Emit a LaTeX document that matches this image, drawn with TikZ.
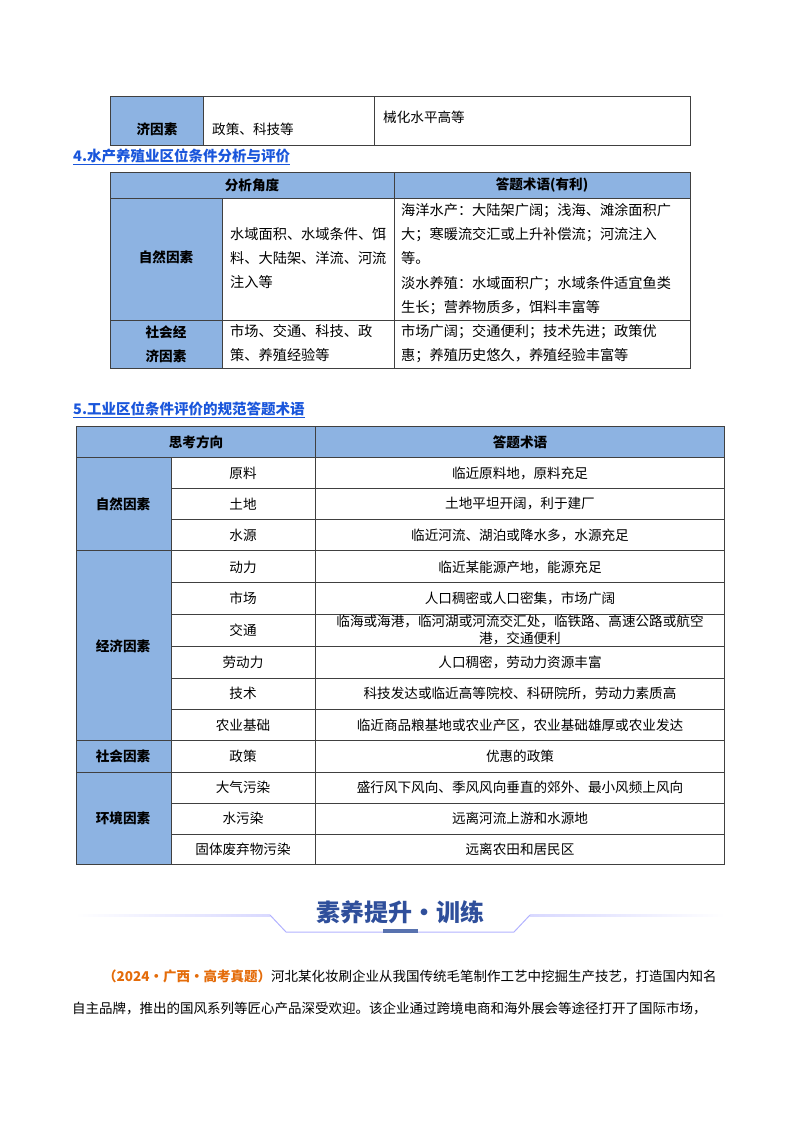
\documentclass[tikz,border=0pt]{standalone}
\usepackage{fontspec}
\setmainfont{Noto Sans CJK SC}
\usetikzlibrary{calc}
\definecolor{hb}{HTML}{8DB3E2}
\definecolor{tb}{HTML}{2F4F9B}
\definecolor{or}{HTML}{E46C0A}
\definecolor{ln}{HTML}{1A56DB}
\begin{document}
\begin{tikzpicture}[x=1pt,y=-1pt,
  t/.style={font=\fontsize{13.6}{16}\selectfont,inner sep=0pt},
  b/.style={font=\bfseries\fontsize{13.6}{16}\selectfont,inner sep=0pt},
  lt/.style={font=\fontsize{14.2}{24.3}\selectfont,inner sep=0pt,anchor=north west,align=left},
  hd/.style={font=\bfseries\fontsize{14.5}{16}\selectfont,text=ln,inner sep=0pt,anchor=west},
  grid/.style={draw=black!75,line width=0.8pt}]
\useasboundingbox (0,0) rectangle (800,1132);
% top table
\fill[hb] (110,96) rectangle (203,145);
\draw[grid] (110,96) rectangle (690,145) (203,96)--(203,145) (374,96)--(374,145);
\node[b] (a1) at (157,129) {济因素};
\node[t,anchor=west] (a2) at (212,129) {政策、科技等};
\node[t,anchor=west] (a3) at (383,117) {械化水平高等};
% heading 4
\node[hd] (h4) at (73,156) {4.水产养殖业区位条件分析与评价};
\draw[ln,line width=0.7pt] ($(h4.south west)+(0,1)$) -- ($(h4.south east)+(0,1)$);
% table 4
\fill[hb] (110,172) rectangle (690,198);
\fill[hb] (110,198) rectangle (222,368);
\draw[grid] (110,172) rectangle (690,368) (110,198)--(690,198) (110,320)--(690,320)
 (394,172)--(394,368) (222,198)--(222,368);
\node[b] (b1) at (252,185) {分析角度};
\node[b] (b2) at (542,185) {答题术语(有利)};
\node[b] (b3) at (166,257) {自然因素};
\node[b,align=center,font=\bfseries\fontsize{13.6}{24}\selectfont] (b4) at (166,344) {社会经\\济因素};
\node[lt] (b5) at (230,227) {水域面积、水域条件、饵\\料、大陆架、洋流、河流\\注入等};
\node[lt] (b6) at (401,203) {海洋水产：大陆架广阔；浅海、滩涂面积广\\大；寒暖流交汇或上升补偿流；河流注入\\等。\\淡水养殖：水域面积广；水域条件适宜鱼类\\生长；营养物质多，饵料丰富等};
\node[lt] (b7) at (230,324) {市场、交通、科技、政\\策、养殖经验等};
\node[lt] (b8) at (401,324) {市场广阔；交通便利；技术先进；政策优\\惠；养殖历史悠久，养殖经验丰富等};
% heading 5
\node[hd] (h5) at (73,409) {5.工业区位条件评价的规范答题术语};
\draw[ln,line width=0.7pt] ($(h5.south west)+(0,1)$) -- ($(h5.south east)+(0,1)$);
% table 5
\fill[hb] (76,426) rectangle (724,457);
\fill[hb] (76,457) rectangle (171,864);
\draw[grid] (76,426) rectangle (724,864) (315,426)--(315,864) (171,457)--(171,864)
 (76,457)--(724,457) (76,550)--(724,550) (76,740)--(724,740) (76,772)--(724,772);
\foreach \y in {488,519,582,614,646,678,709,803,834} \draw[grid] (171,\y)--(724,\y);
\node[b] (c0) at (196,442) {思考方向};
\node[b] (c00) at (520,442) {答题术语};
\node[b] (g1) at (123,504) {自然因素};
\node[b] (g2) at (123,646) {经济因素};
\node[b] (g3) at (123,756) {社会因素};
\node[b] (g4) at (123,818) {环境因素};
\foreach \y/\a/\c [count=\i] in {473/原料/临近原料地，原料充足, 504/土地/土地平坦开阔，利于建厂, 535/水源/临近河流、湖泊或降水多，水源充足, 567/动力/临近某能源产地，能源充足, 598/市场/人口稠密或人口密集，市场广阔, 662/劳动力/人口稠密，劳动力资源丰富, 693/技术/科技发达或临近高等院校、科研院所，劳动力素质高, 725/农业基础/临近商品粮基地或农业产区，农业基础雄厚或农业发达, 756/政策/优惠的政策, 787/大气污染/盛行风下风向、季风风向垂直的郊外、最小风频上风向, 818/水污染/远离河流上游和水源地, 849/固体废弃物污染/远离农田和居民区}{
  \node[t] (r\i) at (243,\y) {\a};
  \node[t] (s\i) at (520,\y) {\c};}
\node[t] (jt) at (243,630) {交通};
\node[t,align=center,font=\fontsize{13.6}{17}\selectfont] (jc) at (520,630) {临海或海港，临河湖或河流交汇处，临铁路、高速公路或航空\\港，交通便利};
% banner
\shade[left color=white,right color=blue!15] (75,914) rectangle (270,916);
\shade[left color=blue!15,right color=white] (530,914) rectangle (725,916);
\draw[blue!30,line width=1pt] (270,915)--(286,932)--(514,932)--(530,915);
\fill[tb!80] (383,929) rectangle (418,933);
\node[font=\bfseries\fontsize{24}{26}\selectfont,text=tb,inner sep=0pt] (ttl) at (400,912) {素养提升·训练};
% paragraph
\node[t,anchor=west,font=\fontsize{13.5}{14}\selectfont] (p1) at (103,976) {\textcolor{or}{\bfseries（2024·广西·高考真题）}河北某化妆刷企业从我国传统毛笔制作工艺中挖掘生产技艺，打造国内知名};
\node[t,anchor=west,font=\fontsize{13.5}{14}\selectfont] (p2) at (72,1008) {自主品牌，推出的国风系列等匠心产品深受欢迎。该企业通过跨境电商和海外展会等途径打开了国际市场，};
\end{tikzpicture}
\end{document}
